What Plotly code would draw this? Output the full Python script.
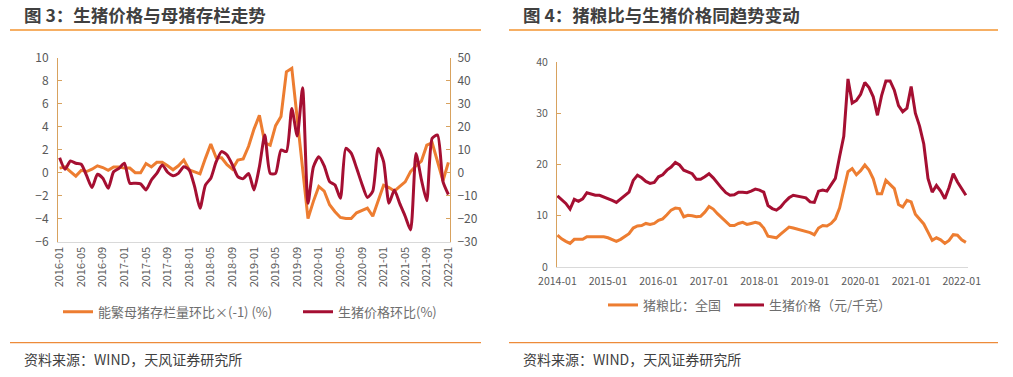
import plotly.graph_objects as go

W, H = 1013, 377
def px(x): return x / W
def py(y): return 1 - y / H

ORANGE = "#ED7D31"
RED = "#A50F32"
TAN = "#D8A25E"
GRAY_AX = "#D9D9D9"
TICK_C = "#595959"
FONT = "Microsoft YaHei, Noto Sans CJK SC, sans-serif"

# ---------------- Left chart data (2016-01 .. 2022-01, monthly) ----------------
months_l = [f"{y}-{m:02d}" for y in range(2016, 2023) for m in range(1, 13)][:73]
ticks_l = months_l[::4]

sow_mom_neg = [  # 能繁母猪存栏量环比×(-1) (%), left axis
    0.4, 0.5, 0.1, -0.3, 0.2, 0.1, 0.3, 0.6, 0.45, 0.2, 0.5, 0.5,
    0.4, 0.4, 0.0, 0.0, 0.8, 0.5, 0.9, 0.9, 0.6, 0.25, 0.6, 1.1,
    0.25, 0.05, -0.1, 1.25, 2.5, 1.3, 1.3, 0.7, 0.3, 1.1, 1.2, 2.3,
    3.8, 5.0, 2.6, 2.4, 4.1, 4.9, 8.8, 9.1, 4.7, 0.3, -4.0, -2.5,
    -1.2, -1.6, -2.8, -3.4, -3.9, -4.0, -4.0, -3.5, -3.3, -3.1, -3.8, -2.4,
    -1.1, -1.3, -1.6, -1.2, -0.8, 0.1, 0.6, 1.0, 2.4, 2.6, 1.0, -0.7,
    0.9,
]
price_mom = [  # 生猪价格环比(%), right axis
    6.5, 1.5, 5.1, 4.1, 3.7, -1.3, -6.5, -0.7, -2.4, -6.8, 0.4, 1.9,
    4.1, -4.6, -4.6, -4.9, -7.5, -3.2, -0.3, 3.4, 0.2, -1.3, -0.3, 2.6,
    1.2, -6.1, -15.5, -5.4, -2.4, 4.8, 9.2, 7.7, 3.4, -1.7, -2.6, -0.3,
    -7.5, 2.6, 16.4, -0.3, -0.3, 9.9, 9.2, 28.0, 16.0, 37.0, -13.3, 2.5,
    7.0, 3.0, -3.9, -5.4, -11.2, 10.6, 8.5, 2.0, -5.0, -10.8, -8.0, 10.6,
    4.8, -13.3, -7.5, -13.5, -19.0, -25.0, 8.4, -3.0, -12.2, 15.0, 16.4, -3.9,
    -9.5,
]

# ---------------- Right chart data (2014-01 .. 2022-02, monthly) ----------------
months_r = [f"{y}-{m:02d}" for y in range(2014, 2023) for m in range(1, 13)][:98]
ticks_r = months_r[::12]

hog_grain = [  # 猪粮比：全国
    6.2, 5.5, 5.0, 4.6, 5.4, 5.4, 5.4, 5.9, 5.9, 6.0, 6.0, 5.9,
    5.7, 5.4, 5.0, 5.4, 5.9, 6.5, 7.6, 8.0, 8.1, 8.5, 8.3, 8.5,
    9.1, 9.4, 10.2, 11.1, 11.5, 11.4, 9.8, 10.1, 10.0, 9.8, 9.9, 10.7,
    11.8, 11.3, 10.4, 9.6, 8.8, 8.1, 8.1, 8.5, 8.7, 8.3, 8.5, 8.7,
    8.5, 7.6, 6.0, 5.8, 5.7, 6.4, 7.2, 7.8, 7.6, 7.4, 7.2, 7.0,
    6.7, 6.3, 7.6, 8.1, 8.0, 8.5, 9.4, 11.5, 15.0, 18.6, 19.2, 18.0,
    18.8, 19.9, 18.9, 17.2, 14.3, 14.3, 16.9, 16.0, 15.3, 12.2, 11.7, 13.0,
    12.7, 10.3, 9.3, 8.4, 6.8, 5.2, 5.7, 5.3, 4.6, 5.2, 6.3, 6.2,
    5.3, 4.8,
]
hog_price = [  # 生猪价格（元/千克）
    13.9, 13.2, 12.4, 11.3, 13.2, 12.8, 13.3, 14.5, 14.3, 14.0, 14.0, 13.7,
    13.3, 13.0, 12.6, 13.3, 14.0, 14.6, 16.9, 17.9, 17.4, 16.7, 16.3, 16.5,
    17.6, 18.0, 18.9, 19.5, 20.4, 19.9, 18.9, 18.6, 18.2, 17.1, 17.1, 17.6,
    18.2, 17.4, 16.3, 15.4, 14.5, 14.0, 14.1, 14.6, 14.6, 14.5, 14.8, 15.2,
    15.0, 14.6, 12.0, 11.4, 11.1, 11.7, 12.7, 13.5, 14.0, 13.8, 13.6, 13.5,
    12.7, 12.6, 14.8, 15.0, 14.8, 16.0, 17.3, 21.5, 25.5, 36.7, 32.0, 32.5,
    33.7, 36.0, 35.0, 33.2, 29.6, 33.5, 36.3, 36.3, 34.5, 31.5, 30.3, 31.0,
    35.2, 30.0, 27.5, 24.0, 17.3, 14.6, 15.9, 14.8, 13.3, 15.5, 18.2, 16.6,
    15.2, 14.0,
]

fig = go.Figure()
fig.add_trace(go.Scatter(x=months_l, y=sow_mom_neg, name="能繁母猪存栏量环比×(-1) (%)",
                         mode="lines", line=dict(color=ORANGE, width=3), legendwidth=195,
                         xaxis="x", yaxis="y", legend="legend"))
fig.add_trace(go.Scatter(x=months_l, y=price_mom, name="生猪价格环比(%)",
                         mode="lines", line=dict(color=RED, width=3, shape="spline", smoothing=0.6),
                         legendwidth=115, xaxis="x", yaxis="y2", legend="legend"))
fig.add_trace(go.Scatter(x=months_r, y=hog_grain, name="猪粮比：全国",
                         mode="lines", line=dict(color=ORANGE, width=3), legendwidth=81,
                         xaxis="x3", yaxis="y3", legend="legend2"))
fig.add_trace(go.Scatter(x=months_r, y=hog_price, name="生猪价格（元/千克）",
                         mode="lines", line=dict(color=RED, width=3), legendwidth=130,
                         xaxis="x3", yaxis="y3", legend="legend2"))

yax_common = dict(showline=True, linecolor=TAN, linewidth=1, ticks="inside", ticklen=4,
                  tickcolor=TAN, showgrid=False, zeroline=False, automargin=False,
                  tickfont=dict(size=12, color=TICK_C))

fig.update_layout(
    width=W, height=H, margin=dict(l=0, r=0, t=0, b=0, autoexpand=False),
    paper_bgcolor="white", plot_bgcolor="white",
    font=dict(family=FONT, color=TICK_C),
    xaxis=dict(domain=[px(58), px(450)], anchor="y", type="category", automargin=False,
               range=[-0.3, 72.3], tickmode="array", tickvals=ticks_l, tickangle=-90,
               showline=True, linecolor=GRAY_AX, linewidth=1, showgrid=False, zeroline=False,
               ticks="", tickfont=dict(size=11, color=TICK_C)),
    yaxis=dict(domain=[py(241.5), py(58)], anchor="x", range=[-6, 10], dtick=2,
               ticklabelstandoff=6, **yax_common),
    yaxis2=dict(overlaying="y", side="right", anchor="x", range=[-30, 50], dtick=10,
                ticklabelstandoff=4, **yax_common),
    xaxis3=dict(domain=[px(557), px(968)], anchor="y3", type="category", automargin=False,
                range=[-0.1, 97.5], tickmode="array", tickvals=ticks_r, tickangle=0,
                showline=True, linecolor=GRAY_AX, linewidth=1, showgrid=False, zeroline=False,
                ticks="", ticklabelstandoff=4, tickfont=dict(size=10.5, color=TICK_C)),
    yaxis3=dict(domain=[py(267), py(62)], anchor="x3", range=[0, 40], dtick=10,
                ticklabelstandoff=6,
                **{**yax_common, "tickfont": dict(size=10.5, color=TICK_C)}),
    legend=dict(orientation="h", x=px(58), y=py(311.7), xanchor="left", yanchor="middle",
                font=dict(size=13, color="#6E6E6E", family=FONT),
                bgcolor="rgba(0,0,0,0)", itemwidth=30),
    legend2=dict(orientation="h", x=px(603), y=py(305), xanchor="left", yanchor="middle",
                 font=dict(size=13, color="#6E6E6E", family=FONT),
                 bgcolor="rgba(0,0,0,0)", itemwidth=30),
    showlegend=True,
)

# Titles
fig.add_annotation(x=px(22), y=py(14.5), xref="paper", yref="paper", xanchor="left", yanchor="middle",
                   text="<b>图 3：生猪价格与母猪存栏走势</b>", showarrow=False,
                   font=dict(size=17.5, color="#404040", family=FONT))
fig.add_annotation(x=px(521), y=py(14.5), xref="paper", yref="paper", xanchor="left", yanchor="middle",
                   text="<b>图 4：猪粮比与生猪价格同趋势变动</b>", showarrow=False,
                   font=dict(size=17.5, color="#404040", family=FONT))
# Sources
for sx in (22, 521):
    fig.add_annotation(x=px(sx), y=py(359), xref="paper", yref="paper", xanchor="left", yanchor="middle",
                       text="资料来源：WIND，天风证券研究所", showarrow=False,
                       font=dict(size=14, color="#404040", family=FONT))

# Separator lines
for (x0, x1) in ((10, 481), (509, 998)):
    fig.add_shape(type="line", xref="paper", yref="paper", x0=px(x0), x1=px(x1), y0=py(30), y1=py(30),
                  line=dict(color="#F39530", width=1.5))
    fig.add_shape(type="line", xref="paper", yref="paper", x0=px(x0), x1=px(x1), y0=py(342.7), y1=py(342.7),
                  line=dict(color="#ED8B3A", width=1.2))

# Remove the default page margin so the figure fills the 1013x377 window exactly
fig.write_html("out.html", config={"displayModeBar": False},
               post_script="document.body.style.margin='0';document.body.style.overflow='hidden';")
